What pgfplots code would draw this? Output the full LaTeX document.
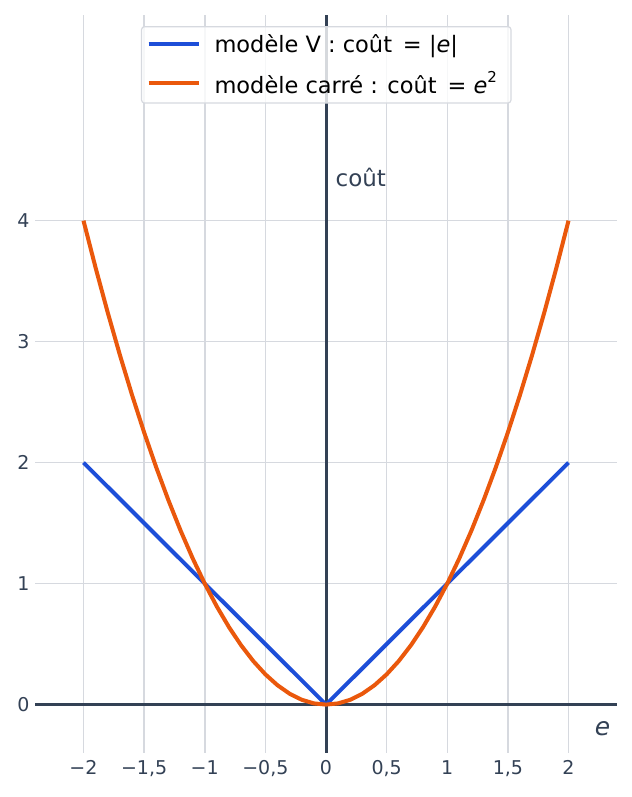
\documentclass[border=0pt]{standalone}
\usepackage{fontspec}
\setmainfont{DejaVu Sans}
\usepackage{pgfplots}
\pgfplotsset{compat=1.18}
\definecolor{bleu}{HTML}{1D4ED8}
\definecolor{orange}{HTML}{EA580C}
\definecolor{ardoise}{HTML}{334155}
\definecolor{grille}{HTML}{D6D9DF}
\begin{document}
\begin{tikzpicture}
\begin{axis}[
    scale only axis,
    width=582pt, height=738pt,
    xmin=-2.4, xmax=2.4,
    ymin=-0.4, ymax=5.7,
    axis line style={draw=none},
    major tick length=0pt,
    grid=major,
    grid style={draw=grille, line width=1.5pt},
    xtick={-2,-1.5,-1,-0.5,0,0.5,1,1.5,2},
    xticklabels={−2,{−1,5},−1,{−0,5},0,{0,5},1,{1,5},2},
    ytick={0,1,2,3,4},
    yticklabels={0,1,2,3,4},
    tick label style={font=\fontsize{19}{22}\selectfont, text=ardoise},
    xticklabel style={yshift=-4pt},
    yticklabel style={xshift=-2pt},
    legend style={at={(0.182,0.985)}, anchor=north west,
        draw=grille, line width=1.2pt, rounded corners=3pt,
        fill=white, fill opacity=0.8, text opacity=1,
        font=\fontsize{22.5}{26}\selectfont,
        inner xsep=5pt, inner ysep=5pt,
        row sep=11pt,
        nodes={inner sep=3pt},
        /tikz/every odd column/.append style={column sep=11pt}},
    legend cell align=left,
    legend image code/.code={\draw[#1] (0pt,0pt) -- (50pt,0pt);},
]
% axes x=0 et y=0
\draw[ardoise, line width=3pt] (axis cs:0,-0.4) -- (axis cs:0,5.7);
\draw[ardoise, line width=3pt] (axis cs:-2.4,0) -- (axis cs:2.4,0);
\addplot[bleu, line width=4pt, line join=round] coordinates {
    (-2,2) (0,0) (2,2)
};
\addlegendentry{modèle V : coût \,= |\textit{e}|}
\addplot[orange, line width=4pt, line join=round] coordinates {
    (-2,4) (-1.9,3.61) (-1.8,3.24) (-1.7,2.89) (-1.6,2.56) (-1.5,2.25)
    (-1.4,1.96) (-1.3,1.69) (-1.2,1.44) (-1.1,1.21) (-1,1)
    (-0.9,0.81) (-0.8,0.64) (-0.7,0.49) (-0.6,0.36) (-0.5,0.25)
    (-0.4,0.16) (-0.3,0.09) (-0.2,0.04) (-0.1,0.01) (0,0)
    (0.1,0.01) (0.2,0.04) (0.3,0.09) (0.4,0.16) (0.5,0.25)
    (0.6,0.36) (0.7,0.49) (0.8,0.64) (0.9,0.81) (1,1)
    (1.1,1.21) (1.2,1.44) (1.3,1.69) (1.4,1.96) (1.5,2.25)
    (1.6,2.56) (1.7,2.89) (1.8,3.24) (1.9,3.61) (2,4)
};
\addlegendentry{modèle carré : coût \,= \textit{e}\raisebox{0.5em}{\fontsize{15}{15}\selectfont 2}\hspace*{6pt}}
\node[anchor=west, text=ardoise, font=\fontsize{23}{26}\selectfont, inner sep=0pt]
    at (axis cs:0.078,4.36) {coût};
\node[text=ardoise, font=\fontsize{25}{27}\itshape, inner sep=0pt]
    at (axis cs:2.28,-0.2) {e};
\end{axis}
\path (current axis.south west) ++(-35pt,-44pt);
\path (current axis.north east) ++(14pt,15pt);
\end{tikzpicture}
\end{document}
